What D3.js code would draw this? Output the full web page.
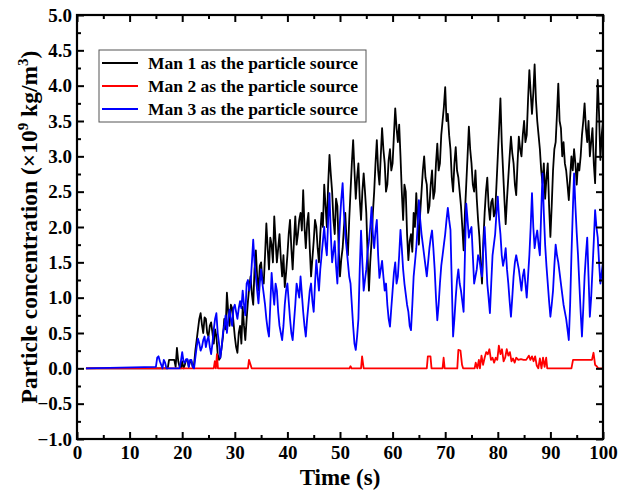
<!DOCTYPE html>
<html>
<head>
<meta charset="utf-8">
<script src="https://cdn.jsdelivr.net/npm/d3@7"></script>
<style>
  html, body { margin: 0; padding: 0; background: #fff; }
  svg { display: block; }
  text { font-family: "Liberation Serif", "Times New Roman", serif; font-weight: bold; fill: #000; }
</style>
</head>
<body>
<svg id="chart" width="627" height="490"></svg>
<script>
// ---------------- data ----------------
const xTicks = [0, 10, 20, 30, 40, 50, 60, 70, 80, 90, 100];
const yTicks = [-1.0, -0.5, 0.0, 0.5, 1.0, 1.5, 2.0, 2.5, 3.0, 3.5, 4.0, 4.5, 5.0];
const seriesNames = ["Man 1 as the particle source", "Man 2 as the particle source", "Man 3 as the particle source"];
const seriesColors = ["#000000", "#ff0000", "#0000ff"];

const baseStart = 1.7;      // time at which the recorded curves begin (value 0)
const sampleStart = 15.0;   // first sampled time of the dense series
const sampleStep = 0.25;    // seconds between samples

// Man 1 (black), t = 15.0 ... 100.0 every 0.25 s (one row = 5 s)
const man1 = [
  0,0,0,0,0,0,0,0,0,0,0.12,0.12,0.12,0.12,0.12,0.02,0.29,0.1,0.02,0,
  0.1,0,0.05,0.12,0.12,0.02,0.1,0.1,0.02,0.05,0.25,0.4,0.55,0.7,0.78,0.62,0.5,0.72,0.7,0.5,
  0.45,0.6,0.65,0.5,0.35,0.55,0.45,0.2,0.12,0.15,0.3,0.45,0.7,0.55,1.07,0.8,0.6,0.9,0.85,0.65,
  0.45,0.3,0.22,0.5,0.6,0.35,0.87,0.6,0.4,0.7,0.95,1.15,1.3,1.05,0.9,1.4,1.67,1.3,1.1,1.45,
  1.5,1.25,1.2,1.6,2.05,1.7,1.4,1.85,1.75,1.5,2.15,1.8,1.5,1.7,1.9,1.55,1.3,1.6,1.15,1.35,
  1.6,1.9,2.1,1.7,1.4,1.8,2.15,1.75,1.9,2.1,2.2,1.95,2.52,2.0,1.7,2.05,2.2,1.7,1.3,1.55,
  1.8,2.1,2.0,1.7,1.5,1.9,2.2,2.0,2.6,2.3,2.0,2.6,3.02,2.75,2.5,2.1,1.9,2.4,2.3,1.7,
  1.3,1.55,1.7,2.0,2.2,1.8,1.6,2.1,2.5,2.9,3.23,2.8,2.4,2.7,2.9,2.4,2.1,2.5,2.76,2.5,
  2.2,1.6,1.1,1.5,1.8,2.2,2.5,2.9,3.23,2.8,2.6,3.0,3.4,3.1,2.9,2.5,2.6,2.95,3.1,2.8,
  2.9,3.3,3.68,3.4,3.2,3.45,3.0,2.5,2.1,2.6,2.5,1.9,1.53,1.8,1.9,1.65,2.2,2.0,2.48,2.1,
  1.75,2.2,2.5,2.8,3.0,2.7,2.6,2.2,2.3,2.6,2.8,2.4,2.5,2.9,3.18,2.8,2.9,3.3,3.5,3.7,
  3.98,3.5,3.6,3.3,3.1,2.7,2.5,2.9,3.13,2.8,2.7,2.5,2.3,2.0,1.67,2.2,2.6,3.0,3.42,3.1,
  2.9,2.6,2.5,2.8,2.4,2.1,1.86,1.5,1.2,1.8,2.2,2.5,2.7,2.3,2.1,2.35,2.4,2.15,2.2,2.6,
  3.0,3.4,3.82,3.2,2.8,2.4,2.04,2.4,2.7,3.0,3.28,3.05,2.9,2.6,2.45,2.9,3.28,3.1,3.0,3.3,
  3.5,3.2,3.3,3.8,4.22,3.9,3.6,3.9,4.3,3.8,3.5,3.3,3.1,2.8,2.62,2.9,2.4,2.7,2.9,2.3,
  1.86,2.3,2.8,3.1,3.2,3.6,4.03,3.5,3.4,3.0,3.2,2.9,2.8,2.6,2.38,2.7,3.0,2.8,3.1,2.9,
  2.6,2.9,2.8,3.0,3.3,3.5,3.75,3.4,3.2,3.5,3.0,3.2,3.4,2.9,2.62,3.4,4.08,3.6,2.95,3.3,
  3.5
];

// Man 3 (blue), t = 15.0 ... 100.0 every 0.25 s (one row = 5 s)
const man3 = [
  0.02,0.15,0.17,0.1,0.05,0,0.12,0.08,0,0,0,0,0,0,0,0,0,0,0,0.1,
  0.23,0.1,0.08,0.13,0.13,0.02,0.12,0.12,0.02,0,0.15,0.3,0.42,0.35,0.25,0.3,0.4,0.45,0.3,0.4,
  0.45,0.3,0.2,0.35,0.55,0.7,0.78,0.5,0.35,0.15,0.3,0.5,0.6,0.75,0.5,0.7,0.83,0.7,0.6,0.85,
  0.9,0.8,0.7,0.85,0.95,0.85,1.1,0.9,0.75,1.2,1.25,1.1,1.2,1.5,1.82,1.5,1.3,1.1,0.92,1.2,
  1.4,1.2,1.05,0.9,0.7,0.55,0.45,0.9,1.35,1.1,0.9,1.2,1.1,0.8,0.6,0.5,0.4,0.6,0.9,1.1,
  1.2,0.95,0.7,0.5,0.4,0.65,0.9,1.2,1.1,1.0,1.3,1.05,0.8,0.6,0.45,0.7,0.9,1.1,1.2,0.95,
  0.8,1.2,1.53,1.3,1.1,1.4,1.6,1.8,2.0,1.75,1.6,2.1,2.48,1.9,1.5,1.65,1.8,1.45,1.2,1.7,
  2.1,2.4,2.62,2.2,1.9,1.7,1.5,1.3,1.2,0.9,0.6,0.35,0.26,0.45,0.7,1.4,1.95,1.5,1.1,1.25,
  1.4,1.65,1.8,2.0,2.28,1.9,1.7,1.95,2.1,1.6,1.28,1.4,1.52,1.3,1.1,1.2,0.9,0.7,0.59,0.85,
  1.1,1.35,1.5,1.2,1.3,1.6,1.96,1.7,1.4,1.2,1.05,0.9,0.8,0.6,0.54,0.9,1.3,1.5,1.7,2.0,
  2.38,2.1,1.9,1.75,1.6,1.45,1.3,1.5,1.7,1.85,1.95,1.7,1.4,1.0,0.68,0.9,1.2,1.45,1.6,1.75,
  1.9,2.1,2.27,2.1,1.96,1.2,0.45,0.7,1.0,1.25,1.4,1.2,1.1,0.95,0.8,1.6,2.33,2.1,1.85,1.95,
  2.0,1.6,1.2,1.3,1.4,1.6,1.55,1.4,1.3,1.7,2.0,1.6,1.2,1.0,0.78,1.2,1.6,1.75,1.9,2.2,
  2.43,2.1,1.9,1.6,1.45,1.55,1.7,1.4,1.2,0.95,0.73,1.0,1.3,1.5,1.6,1.5,1.4,1.25,1.1,1.3,
  1.4,1.2,1.0,1.3,1.6,2.0,2.48,2.0,1.7,1.85,1.95,1.75,1.6,2.2,2.76,2.2,1.75,1.45,1.2,0.95,
  0.73,0.9,1.1,1.45,1.75,1.6,1.5,1.35,1.2,1.05,0.9,0.8,0.7,0.55,0.4,0.9,1.6,2.2,2.76,2.3,
  1.92,1.6,1.2,0.8,0.45,0.85,1.3,1.6,1.85,1.3,0.73,1.0,1.4,1.8,2.24,2.0,1.85,1.5,1.2,1.35,
  1.5
];

// Man 2 (red): sparse time / value pairs
const man2Time = [1.7,26.0,26.2,26.4,26.6,26.8,32.5,32.7,33.0,33.2,51.8,52.0,52.2,54.0,54.2,54.5,
  66.5,66.7,67.2,67.4,69.5,69.7,69.9,72.3,72.5,72.9,73.2,73.4,75.6,75.8,76.1,76.4,76.6,76.9,77.2,
  77.5,77.8,78.1,78.4,78.7,79.0,79.3,79.6,79.9,80.2,80.5,80.8,81.1,81.4,81.7,82.0,82.3,82.6,82.9,
  83.2,83.5,83.9,84.4,84.9,85.4,85.9,86.2,86.5,86.8,87.1,87.4,87.7,88.0,88.3,88.6,88.9,89.2,89.4,
  94.0,94.3,97.9,98.2,98.5,98.8,99.1,100.0];
const man2Value = [0,0,0.1,0,0.2,0,0,0.12,0.05,0,0,0.03,0,0,0.17,0,
  0,0.17,0.17,0,0,0.15,0,0,0.26,0.25,0.05,0,0,0.08,0,0.12,0,0.18,0.05,
  0.15,0.23,0.2,0.27,0.12,0.15,0.08,0.15,0.12,0.32,0.2,0.27,0.1,0.15,0.27,0.18,0.23,0.1,0.14,
  0.08,0.15,0.12,0.13,0.12,0.12,0.18,0.12,0.17,0.1,0.17,0.04,0,0.14,0,0.15,0.02,0.15,0,
  0,0.12,0.12,0.22,0.05,0.03,0,0];

// ---------------- chart ----------------
const svg = d3.select("#chart");
const L = 77, R = 603, T = 15, B = 439;
const x = d3.scaleLinear().domain([0, 100]).range([L, R]);
const y = d3.scaleLinear().domain([-1, 5]).range([B, T]);

function dense(vals) {
  const pts = [[baseStart, 0]];
  vals.forEach((v, i) => pts.push([sampleStart + i * sampleStep, v]));
  return pts;
}
const s1 = dense(man1);
const s3 = dense(man3);
const s2 = man2Time.map((t, i) => [t, man2Value[i]]);

svg.append("clipPath").attr("id", "clip")
  .append("rect").attr("x", L).attr("y", T).attr("width", R - L).attr("height", B - T);

const line = d3.line().x(d => x(d[0])).y(d => y(d[1]));
const g = svg.append("g").attr("clip-path", "url(#clip)");
[[s1, 0], [s2, 1], [s3, 2]].forEach(([data, k]) => {
  g.append("path").datum(data).attr("d", line)
    .attr("fill", "none").attr("stroke", seriesColors[k])
    .attr("stroke-width", 1.8).attr("stroke-linejoin", "round");
});

// axes
const fmtY = d3.format(".1f");
const minorX = d3.range(5, 100, 10);
const minorY = d3.range(-0.75, 5, 0.5);

function styleAxis(sel) {
  sel.select(".domain").remove();
  sel.selectAll(".tick line").attr("stroke", "#000").attr("stroke-width", 2);
  sel.selectAll("text").style("font-size", "19px").attr("fill", "#000");
}

svg.append("g").attr("transform", `translate(0,${B})`)
  .call(d3.axisBottom(x).tickValues(xTicks).tickSize(-7).tickPadding(7).tickFormat(d3.format("d")))
  .call(styleAxis);
svg.append("g").attr("transform", `translate(0,${B})`)
  .call(d3.axisBottom(x).tickValues(minorX).tickSize(-4).tickFormat(""))
  .call(styleAxis);
svg.append("g").attr("transform", `translate(0,${T})`)
  .call(d3.axisTop(x).tickValues(xTicks).tickSize(-7).tickFormat(""))
  .call(styleAxis);
svg.append("g").attr("transform", `translate(0,${T})`)
  .call(d3.axisTop(x).tickValues(minorX).tickSize(-4).tickFormat(""))
  .call(styleAxis);

svg.append("g").attr("transform", `translate(${L},0)`)
  .call(d3.axisLeft(y).tickValues(yTicks).tickSize(-7).tickPadding(5).tickFormat(fmtY))
  .call(styleAxis);
svg.append("g").attr("transform", `translate(${L},0)`)
  .call(d3.axisLeft(y).tickValues(minorY).tickSize(-4).tickFormat(""))
  .call(styleAxis);
svg.append("g").attr("transform", `translate(${R},0)`)
  .call(d3.axisRight(y).tickValues(yTicks).tickSize(-7).tickFormat(""))
  .call(styleAxis);
svg.append("g").attr("transform", `translate(${R},0)`)
  .call(d3.axisRight(y).tickValues(minorY).tickSize(-4).tickFormat(""))
  .call(styleAxis);

// frame
svg.append("rect").attr("x", L).attr("y", T).attr("width", R - L).attr("height", B - T)
  .attr("fill", "none").attr("stroke", "#000").attr("stroke-width", 2.2);

// axis titles
svg.append("text").attr("x", (L + R) / 2).attr("y", 485).attr("text-anchor", "middle")
  .style("font-size", "23px").text("Time (s)");

const yt = svg.append("text").attr("transform", `translate(37,${(T + B) / 2}) rotate(-90)`)
  .attr("text-anchor", "middle").style("font-size", "23.5px");
yt.append("tspan").text("Particle concentration (×10");
yt.append("tspan").attr("dy", -9).style("font-size", "15px").text("9");
yt.append("tspan").attr("dy", 9).text(" kg/m");
yt.append("tspan").attr("dy", -9).style("font-size", "15px").text("3");
yt.append("tspan").attr("dy", 9).text(")");

// legend
const lg = svg.append("g");
lg.append("rect").attr("x", 99).attr("y", 50).attr("width", 267).attr("height", 72)
  .attr("fill", "#fff").attr("stroke", "#555").attr("stroke-width", 1);
seriesNames.forEach((name, i) => {
  const cy = 63 + i * 23;
  lg.append("line").attr("x1", 102).attr("x2", 138).attr("y1", cy).attr("y2", cy)
    .attr("stroke", seriesColors[i]).attr("stroke-width", 1.8);
  lg.append("text").attr("x", 148).attr("y", cy).attr("dy", "0.35em")
    .style("font-size", "17.5px").text(name);
});
</script>
</body>
</html>
